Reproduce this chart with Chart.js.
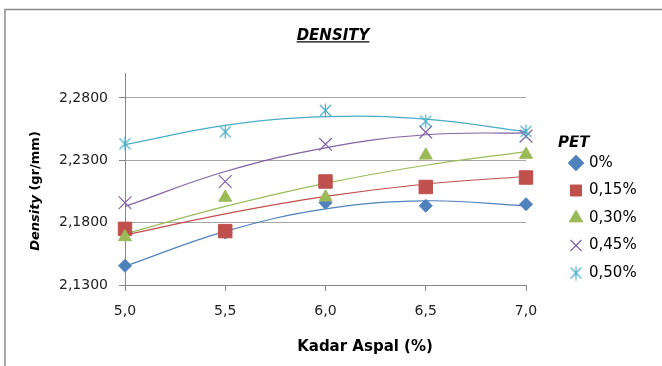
<!DOCTYPE html>
<html><head><meta charset="utf-8">
<script src="https://cdn.jsdelivr.net/npm/chart.js@4/dist/chart.umd.min.js"></script>
<style>html,body{margin:0;padding:0;background:#fff;}canvas{display:block;}</style>
</head><body>
<canvas id="c" width="662" height="366"></canvas>
<script>
// ---- data ----
const chartTitle = 'DENSITY';
const xTitle = 'Kadar Aspal (%)';
const yTitleItalic = 'Density';
const yTitleRest = ' (gr/mm)';
const legendTitle = 'PET';
const categories = [5.0, 5.5, 6.0, 6.5, 7.0];
const yTicks = [2.13, 2.18, 2.23, 2.28];
const seriesNames = ['0%', '0,15%', '0,30%', '0,45%', '0,50%'];
const pet000 = [2.1454, 2.1720, 2.1960, 2.1935, 2.1948];
const pet015 = [2.1750, 2.1732, 2.2130, 2.2086, 2.2162];
const pet030 = [2.1685, 2.2002, 2.2004, 2.2340, 2.2346];
const pet045 = [2.1960, 2.2130, 2.2428, 2.2526, 2.2494];
const pet050 = [2.2432, 2.2528, 2.2700, 2.2614, 2.2532];
// polynomial trendlines
const trend000 = [2.1450, 2.1730, 2.1910, 2.1975, 2.1935];
const trend015 = [2.1700, 2.1870, 2.2010, 2.2110, 2.2170];
const trend030 = [2.1710, 2.1930, 2.2115, 2.2260, 2.2370];
const trend045 = [2.1930, 2.2210, 2.2400, 2.2505, 2.2520];
const trend050 = [2.2425, 2.2580, 2.2650, 2.2630, 2.2530];

const colors = ['#4F81BD', '#C0504D', '#9BBB59', '#8064A2', '#4BACC6'];
const FONT = 'DejaVu Sans';
Chart.defaults.font.family = FONT;

function asterisk(color) {
  const c = document.createElement('canvas');
  c.width = 15; c.height = 15;
  const g = c.getContext('2d');
  g.strokeStyle = color; g.lineWidth = 1.2;
  g.beginPath();
  g.moveTo(2, 2); g.lineTo(13, 13);
  g.moveTo(13, 2); g.lineTo(2, 13);
  g.moveTo(7.5, 0.5); g.lineTo(7.5, 14.5);
  g.stroke();
  return c;
}

const toXY = arr => categories.map((x, i) => ({x: x, y: arr[i]}));
const seriesValues = [pet000, pet015, pet030, pet045, pet050];
const trendValues = [trend000, trend015, trend030, trend045, trend050];
const styles = ['rectRot', 'rect', 'triangle', 'crossRot', asterisk(colors[4])];
const radii = [6.5, 9.5, 7.5, 9, 7.5];

const datasets = [];
seriesValues.forEach((vals, i) => {
  datasets.push({
    label: seriesNames[i], data: toXY(vals), showLine: false, clip: false,
    pointStyle: styles[i], pointRadius: radii[i],
    backgroundColor: colors[i], borderColor: colors[i],
    borderWidth: (i >= 3) ? 1.2 : 1, order: 5 - i
  });
});
trendValues.forEach((vals, i) => {
  datasets.push({
    label: '', isTrend: true, data: toXY(vals), showLine: true, clip: false,
    pointRadius: 0, borderColor: colors[i], backgroundColor: colors[i],
    borderWidth: 1.2, tension: 0.4, fill: false, order: 20 + i
  });
});

const deco = {
  id: 'deco',
  beforeDraw(chart) {
    const ctx = chart.ctx;
    ctx.save();
    ctx.fillStyle = '#fff'; ctx.fillRect(0, 0, chart.width, chart.height);
    ctx.strokeStyle = '#8c8c8c'; ctx.lineWidth = 1.5;
    ctx.strokeRect(5, 9.5, 900, 600);
    ctx.restore();
  },
  afterLayout(chart) {
    const lg = chart.legend;
    lg.left = 558; lg.right = 662;
    lg.top = 135.5; lg.bottom = 366;
    const tb = chart.titleBlock;
    tb.left = 0; tb.right = 666;
  },
  afterDraw(chart) {
    const ctx = chart.ctx;
    ctx.save();
    // title underline
    const tb = chart.titleBlock;
    ctx.font = 'italic bold 15px "' + FONT + '"';
    ctx.textBaseline = 'middle';
    const m = ctx.measureText(chartTitle);
    const cx = (tb.left + tb.right) / 2;
    const cy = tb.top + 27 + 9;
    ctx.strokeStyle = '#000'; ctx.lineWidth = 1.3;
    ctx.beginPath();
    const uy = cy + m.actualBoundingBoxDescent + 2;
    ctx.moveTo(cx - m.width / 2, uy); ctx.lineTo(cx + m.width / 2, uy);
    ctx.stroke();
    // x title
    ctx.fillStyle = '#000';
    ctx.font = 'bold 15px "' + FONT + '"';
    ctx.textAlign = 'center'; ctx.textBaseline = 'middle';
    ctx.fillText(xTitle, 365, 347);
    // y title
    ctx.translate(36, 191);
    ctx.rotate(-Math.PI / 2);
    const f1 = 'italic bold 13px "' + FONT + '"';
    const f2 = 'bold 13px "' + FONT + '"';
    ctx.font = f1; const w1 = ctx.measureText(yTitleItalic).width;
    ctx.font = f2; const w2 = ctx.measureText(yTitleRest).width;
    const x0 = -(w1 + w2) / 2;
    ctx.textAlign = 'left'; ctx.textBaseline = 'middle';
    ctx.font = f1; ctx.fillText(yTitleItalic, x0, 0);
    ctx.font = f2; ctx.fillText(yTitleRest, x0 + w1, 0);
    ctx.restore();
  }
};

new Chart(document.getElementById('c'), {
  type: 'scatter',
  data: {datasets: datasets},
  plugins: [deco],
  options: {
    responsive: false, animation: false, events: [], devicePixelRatio: 1,
    layout: {padding: {top: 0, left: 0, right: 135, bottom: 0}},
    plugins: {
      title: {display: true, text: chartTitle, color: '#000',
        font: {family: FONT, size: 15, weight: 'bold', style: 'italic'},
        padding: {top: 27, bottom: 28}},
      tooltip: {enabled: false},
      legend: {
        position: 'right', align: 'start', maxWidth: 1,
        title: {display: true, text: legendTitle, position: 'start', color: '#000',
          font: {family: FONT, size: 15, weight: 'bold', style: 'italic'},
          padding: {top: 0, bottom: -10.5}},
        labels: {
          usePointStyle: true, boxWidth: 11, boxHeight: 11, padding: 12.5,
          color: '#000', font: {family: FONT, size: 15},
          filter: (item, data) => !data.datasets[item.datasetIndex].isTrend,
          sort: (a, b) => a.datasetIndex - b.datasetIndex
        }
      }
    },
    scales: {
      x: {
        type: 'linear', position: 'bottom', min: 5, max: 7,
        ticks: {stepSize: 0.5, padding: 12, color: '#222', font: {family: FONT, size: 14},
          callback: v => Number(v).toFixed(1).replace('.', ',')},
        grid: {drawOnChartArea: false, drawTicks: true, tickLength: 6, color: '#868686'},
        border: {color: '#868686', width: 1},
        afterFit: s => { s.height = 81; }
      },
      y: {
        type: 'linear', position: 'left', min: 2.13, max: 2.30,
        afterBuildTicks: s => { s.ticks = yTicks.map(v => ({value: v})); },
        ticks: {padding: 11, color: '#222', font: {family: FONT, size: 14},
          callback: v => Number(v).toFixed(4).replace('.', ',')},
        grid: {color: '#a6a6a6', tickColor: '#868686', tickLength: 6, drawTicks: true},
        border: {color: '#868686', width: 1},
        afterFit: s => { s.width = 125; }
      }
    }
  }
});
</script>
</body></html>
